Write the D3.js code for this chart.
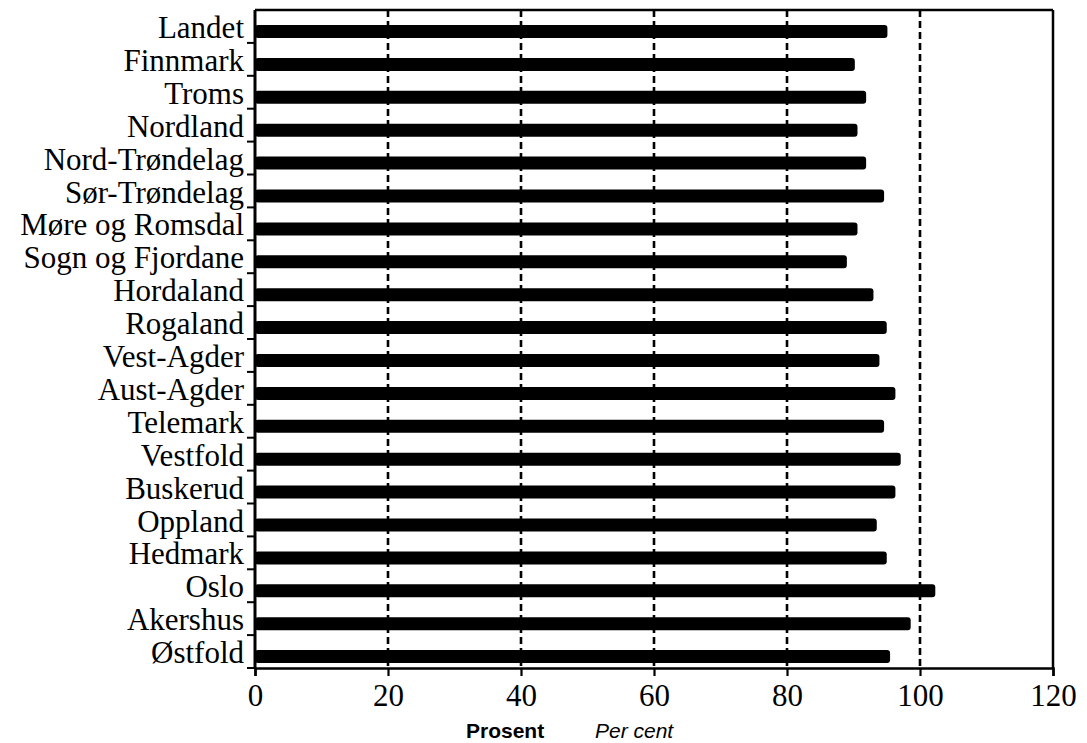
<!DOCTYPE html>
<html>
<head>
<meta charset="utf-8">
<script src="https://cdn.jsdelivr.net/npm/d3@7"></script>
<style>
  html, body { margin: 0; padding: 0; background: #fff; }
  svg { display: block; }
</style>
</head>
<body>
<svg id="chart" width="1087" height="743"></svg>
<script>
const categories = ["Landet","Finnmark","Troms","Nordland","Nord-Trøndelag","Sør-Trøndelag","Møre og Romsdal","Sogn og Fjordane","Hordaland","Rogaland","Vest-Agder","Aust-Agder","Telemark","Vestfold","Buskerud","Oppland","Hedmark","Oslo","Akershus","Østfold"];
const values = [95.1,90.2,91.9,90.6,91.9,94.6,90.6,89.0,93.0,95.0,93.9,96.3,94.6,97.1,96.3,93.5,95.0,102.3,98.6,95.5];
const xTicks = [0,20,40,60,80,100,120];
const gridValues = [20,40,60,80,100];
const axisTitle = "Prosent";
const axisTitleEn = "Per cent";

(function () {
const svg = d3.select("#chart");
const mL = 255, mR = 1053, mT = 10, mB = 668;

const x = d3.scaleLinear().domain([0,120]).range([mL,mR]);
const y = d3.scaleBand().domain(categories).range([mT,mB]).padding(0);
const bw = y.bandwidth();

// dashed grid lines
svg.append("g").selectAll("line").data(gridValues).join("line")
  .attr("x1", d => x(d)).attr("x2", d => x(d))
  .attr("y1", mT).attr("y2", mB)
  .attr("stroke", "#000").attr("stroke-width", 2.6)
  .attr("stroke-dasharray", "7,4");

// bars
svg.append("g").selectAll("rect").data(categories).join("rect")
  .attr("x", x(0))
  .attr("y", d => y(d) + 15)
  .attr("width", (d,i) => x(values[i]) - x(0))
  .attr("height", 13)
  .attr("rx", 3)
  .attr("fill", "#000");

// frame top and right
svg.append("line").attr("x1", mL).attr("x2", mR).attr("y1", mT).attr("y2", mT)
  .attr("stroke", "#000").attr("stroke-width", 2.5);
svg.append("line").attr("x1", mR).attr("x2", mR).attr("y1", mT).attr("y2", mB)
  .attr("stroke", "#000").attr("stroke-width", 2.5);

// bottom axis
const xAxis = d3.axisBottom(x).tickValues(xTicks).tickSize(8).tickPadding(8).tickFormat(d3.format("d"));
const gx = svg.append("g").attr("transform", `translate(0,${mB})`).call(xAxis);
gx.select(".domain").attr("stroke-width", 2.5);
gx.selectAll(".tick line").attr("stroke-width", 2.2);
gx.selectAll(".tick text")
  .attr("font-family", "'Liberation Serif','Times New Roman',serif")
  .attr("font-size", 31).attr("fill", "#000");

// left axis: ticks at band boundaries
svg.append("line").attr("x1", mL).attr("x2", mL).attr("y1", mT).attr("y2", mB)
  .attr("stroke", "#000").attr("stroke-width", 3);
svg.append("g").selectAll("line").data(categories).join("line")
  .attr("x1", mL - 8).attr("x2", mL)
  .attr("y1", d => y(d) + bw).attr("y2", d => y(d) + bw)
  .attr("stroke", "#000").attr("stroke-width", 2);

// category labels
svg.append("g").selectAll("text").data(categories).join("text")
  .attr("x", mL - 11)
  .attr("y", d => y(d) + 28)
  .attr("text-anchor", "end")
  .attr("font-family", "'Liberation Serif','Times New Roman',serif")
  .attr("font-size", 31)
  .attr("fill", "#000")
  .text(d => d);

// axis titles
svg.append("text").attr("x", 466).attr("y", 738)
  .attr("font-family", "'Liberation Sans',Arial,sans-serif")
  .attr("font-weight", "bold").attr("font-size", 21).text(axisTitle);
svg.append("text").attr("x", 595).attr("y", 738)
  .attr("font-family", "'Liberation Sans',Arial,sans-serif")
  .attr("font-style", "italic").attr("font-size", 21).text(axisTitleEn);
})();
</script>
</body>
</html>
